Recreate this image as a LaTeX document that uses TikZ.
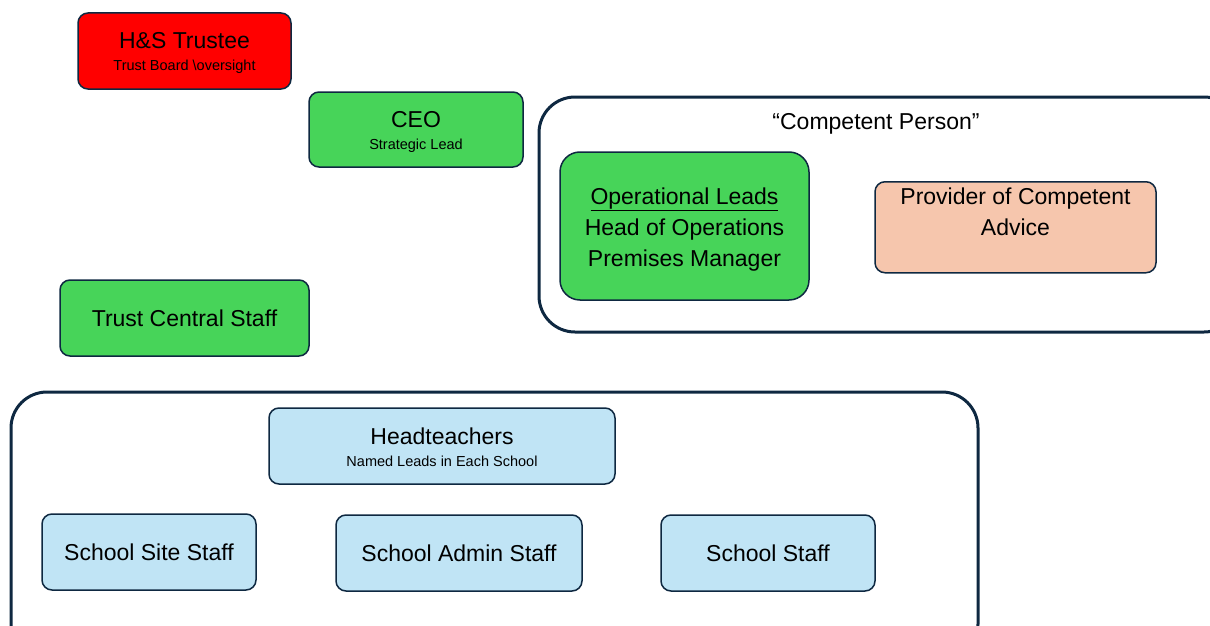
\documentclass[tikz,border=0pt]{standalone}
\usepackage{fontspec}
\setmainfont{Liberation Sans}
\usetikzlibrary{positioning}
\definecolor{navy}{HTML}{0E2841}
\definecolor{hsred}{HTML}{FF0000}
\definecolor{leadgreen}{HTML}{47D459}
\definecolor{peach}{HTML}{F6C6AD}
\definecolor{paleblue}{HTML}{C0E4F5}
\begin{document}
\begin{tikzpicture}[x=1pt, y=-1pt,
    rolebox/.style={rectangle, rounded corners=10pt, draw=navy, line width=1.5pt, align=center,
        font=\fontsize{23}{27}\selectfont, inner sep=2pt},
    groupbox/.style={draw=navy, line width=3pt, rounded corners=36pt}
]
    \clip (0,0) rectangle (1210,626);
    \fill[white] (0,0) rectangle (1210,626);

    % the two grouping frames
    \draw[groupbox] (539,97) rectangle (1240,332);
    \draw[groupbox] (11,392) rectangle (978,660);
    \node (cp) at (876,124) {\fontsize{23}{27}\selectfont “Competent Person”};

    % top of the trust
    \node[rolebox, fill=hsred, minimum width=213pt, minimum height=76pt] (hs) at (184.5,51)
        {\rule{0pt}{21pt}H\&S Trustee\\[-5pt]{\fontsize{14.5}{16}\selectfont Trust Board \textbackslash oversight}};
    \node[rolebox, fill=leadgreen, minimum width=214pt, minimum height=75pt] (ceo) at (416,129.5)
        {\rule{0pt}{21pt}CEO\\[-5pt]{\fontsize{14.5}{16}\selectfont Strategic Lead}};
    \node[rolebox, fill=leadgreen, minimum width=249pt, minimum height=76pt] (central) at (184.5,318)
        {Trust Central Staff};

    % inside the competent person frame
    \node[rolebox, fill=leadgreen, rounded corners=20pt, minimum width=249pt, minimum height=148pt,
        font=\fontsize{23}{31}\selectfont] (ops) at (684.5,226)
        {\rule{0pt}{23pt}\underline{Operational Leads}\\Head of Operations\\Premises Manager};
    \node[rolebox, fill=peach, minimum width=281pt, minimum height=90pt, font=\fontsize{23}{31}\selectfont,
        anchor=north] (advice) at (1015.5,181)
        {\rule{0pt}{21pt}Provider of Competent\\Advice\\[4pt]};

    % schools
    \node[rolebox, fill=paleblue, minimum width=346pt, minimum height=76pt] (head) at (442,446)
        {\rule{0pt}{19pt}Headteachers\\[-5pt]{\fontsize{14.5}{16}\selectfont Named Leads in Each School}};
    \node[rolebox, fill=paleblue, minimum width=214pt, minimum height=76pt] (site) at (149,552)
        {School Site Staff};
    \node[rolebox, fill=paleblue, minimum width=246pt, minimum height=76pt] (admin) at (459,553)
        {School Admin Staff};
    \node[rolebox, fill=paleblue, minimum width=214pt, minimum height=76pt] (staff) at (768,553)
        {School Staff};
\end{tikzpicture}
\end{document}
